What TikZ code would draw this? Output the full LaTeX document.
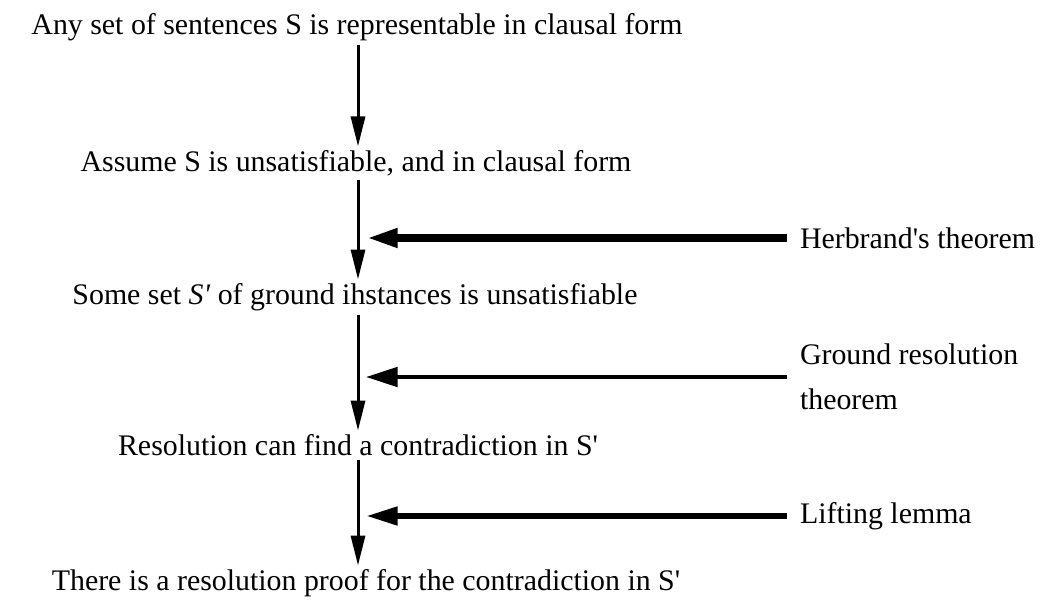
\documentclass[tikz,border=0pt]{standalone}
\usepackage{fontspec}
\setmainfont{Liberation Serif}
\usetikzlibrary{arrows.meta}

\tikzset{
  stmt/.style={inner sep=2pt, font=\fontsize{17}{25.6}\selectfont},
  why/.style={anchor=west, inner sep=0pt, outer sep=7.4pt, align=left,
    font=\fontsize{17}{25.6}\selectfont},
  infer/.style={line width=1.7pt, -{Triangle[length=17pt,width=8pt]}},
  cite/.style={-{Triangle[length=18pt,width=10pt]}}
}
\newcommand{\q}{\textquotesingle}

\begin{document}
\begin{tikzpicture}[x=0.02cm,y=-0.02cm]
    \useasboundingbox (0,0) rectangle (1043,607);
    \coordinate (spine) at (358,0);
    \coordinate (hit) at (366,0);

    % chain of statements
    \node[stmt] (any) at (357,27) {Any set of sentences S is representable in clausal form};
    \node[stmt] (assume) at (356,163) {Assume S is unsatisfiable, and in clausal form};
    \node[stmt] (ground) at (355,297) {Some set \textit{S\q} of ground ihstances is unsatisfiable};
    \node[stmt] (contra) at (358,445) {Resolution can find a contradiction in S\q};
    \node[stmt] (proof) at (366,583) {There is a resolution proof for the contradiction in S\q};

    \draw[infer] (any.south -| spine) -- (assume.north -| spine);
    \draw[infer] (assume.south -| spine) -- (ground.north -| spine);
    \draw[infer] (ground.south -| spine) -- (contra.north -| spine);
    \draw[infer] (contra.south -| spine) -- (proof.north -| spine);

    % justifications
    \node[why] (herbrand) at (787,238) {Herbrand\q s theorem};
    \node[why] (groundres) at (787,377) {Ground resolution\\theorem};
    \node[why] (lifting) at (787,516) {Lifting lemma};

    \draw[cite,line width=4.5pt] (herbrand.west) -- (herbrand.west -| hit);
    \draw[cite,line width=2.3pt,-{Triangle[length=18pt,width=11pt]}] (groundres.west) -- (groundres.west -| hit);
    \draw[cite,line width=3.4pt] (lifting.west) -- (lifting.west -| hit);
\end{tikzpicture}
\end{document}
